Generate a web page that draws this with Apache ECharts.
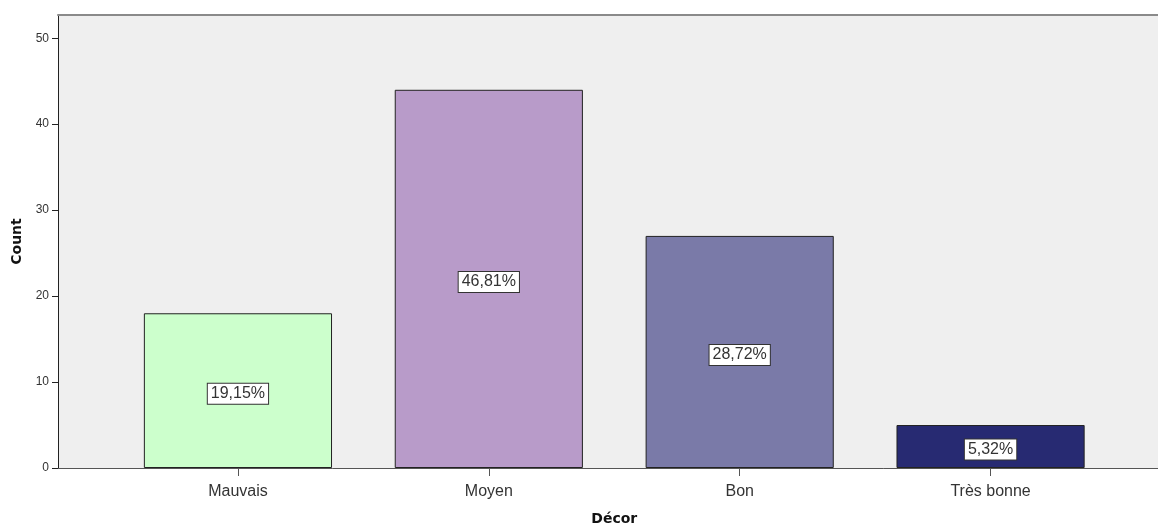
<!DOCTYPE html>
<html><head><meta charset="utf-8">
<script src="https://cdn.jsdelivr.net/npm/echarts@6/dist/echarts.min.js"></script>
<style>html,body{margin:0;padding:0;background:#fff}#c{width:1158px;height:527px}</style>
</head><body><div id="c"></div>
<script>
const categories = ['Mauvais', 'Moyen', 'Bon', 'Très bonne'];
const counts = [18, 44, 27, 5];
const percentLabels = ['19,15%', '46,81%', '28,72%', '5,32%'];
const barColors = ['#ccffcc', '#b89bc9', '#7a7aa8', '#272a72'];
const yTicks = [0, 10, 20, 30, 40, 50];

const FONT = '"Liberation Sans", Arial, sans-serif';
const TFONT = '"DejaVu Sans", sans-serif';
const chart = echarts.init(document.getElementById('c'), null, {renderer: 'canvas'});
const yMax = 52.7;
chart.setOption({
  animation: false,
  grid: [
    {left: 58, right: 0, top: 15, bottom: 59, show: true, backgroundColor: '#efefef', borderWidth: 0, containLabel: false, outerBoundsMode: 'none'},
    {left: 112.5, right: 42, top: 15, bottom: 59, containLabel: false, outerBoundsMode: 'none'}
  ],
  xAxis: [
    {gridIndex: 0, type: 'value', min: 0, max: 1, position: 'bottom',
     axisLine: {show: true, onZero: false, lineStyle: {color: '#555', width: 1}},
     axisTick: {show: false}, axisLabel: {show: false}, splitLine: {show: false}},
    {gridIndex: 0, type: 'value', min: 0, max: 1, position: 'top',
     axisLine: {show: true, onZero: false, lineStyle: {color: '#8a8a8a', width: 2}},
     axisTick: {show: false}, axisLabel: {show: false}, splitLine: {show: false}},
    {gridIndex: 1, type: 'category', data: categories, position: 'bottom',
     axisLine: {show: false},
     axisTick: {show: true, alignWithLabel: true, length: 8, lineStyle: {color: '#555'}},
     axisLabel: {color: '#333', fontFamily: FONT, fontSize: 16, margin: 16},
     name: 'Décor', nameLocation: 'middle', nameGap: 44,
     nameTextStyle: {fontFamily: TFONT, fontSize: 14, fontWeight: 'bold', color: '#111'}}
  ],
  yAxis: [
    {gridIndex: 0, type: 'value', min: 0, max: yMax, interval: 10,
     axisLine: {show: true, onZero: false, lineStyle: {color: '#222', width: 1}},
     axisTick: {show: true, length: 6, lineStyle: {color: '#222'}},
     axisLabel: {color: '#333', fontFamily: FONT, fontSize: 12, margin: 9,
       showMaxLabel: false,
       formatter: v => yTicks.includes(v) ? String(v) : ''},
     splitLine: {show: false},
     name: 'Count', nameLocation: 'middle', nameGap: 33, nameRotate: 90,
     nameTextStyle: {fontFamily: TFONT, fontSize: 14, fontWeight: 'bold', color: '#111'}},
    {gridIndex: 1, type: 'value', min: 0, max: yMax, show: false}
  ],
  series: [{
    type: 'bar', xAxisIndex: 2, yAxisIndex: 1,
    barWidth: '75%',
    data: counts.map((v, i) => ({value: v, itemStyle: {color: barColors[i]}})),
    itemStyle: {borderColor: '#222', borderWidth: 1},
    label: {
      show: true, position: 'inside', offset: [0, 3],
      formatter: p => percentLabels[p.dataIndex],
      fontFamily: FONT, fontSize: 16, color: '#333', lineHeight: 17,
      backgroundColor: '#fff', borderColor: '#333', borderWidth: 1,
      padding: [2, 3, 1, 3]
    }
  }]
});
</script></body></html>
